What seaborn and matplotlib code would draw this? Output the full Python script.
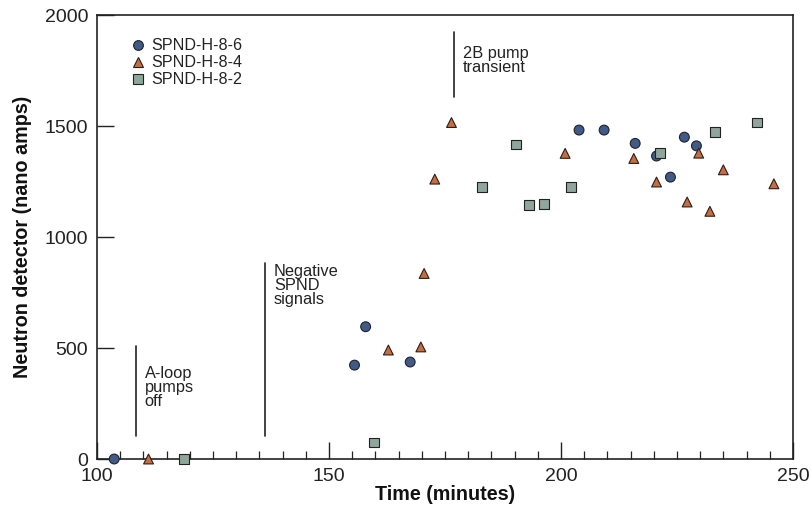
import matplotlib
matplotlib.use("Agg")
import matplotlib.pyplot as plt
import seaborn as sns
import pandas as pd
import numpy as np
from matplotlib.ticker import MultipleLocator
from matplotlib.lines import Line2D

# ---- data ----
s6_time = [103.7, 155.5, 157.9, 167.5, 203.9, 209.3, 216.0, 220.6, 223.6, 226.6, 229.2]
s6_val = [0, 423, 596, 437, 1482, 1482, 1422, 1365, 1270, 1450, 1411]

s4_time = [111.1, 162.8, 169.8, 170.5, 172.8, 176.4, 200.9, 215.7, 220.6, 227.2, 229.7, 232.1, 235.0, 245.9]
s4_val = [0, 491, 505, 836, 1261, 1516, 1377, 1354, 1248, 1158, 1378, 1116, 1303, 1240]

s2_time = [118.8, 159.7, 182.9, 190.3, 193.2, 196.3, 202.1, 221.3, 233.2, 242.2]
s2_val = [0, 74, 1224, 1417, 1144, 1149, 1227, 1377, 1474, 1516]

series_names = ["SPND-H-8-6", "SPND-H-8-4", "SPND-H-8-2"]

events_time = [108.4, 136.2, 177.0]
events_lo = [105, 105, 1633]
events_hi = [510, 883, 1922]
events_text = ["A-loop\npumps\noff", "Negative\nSPND\nsignals", "2B pump\ntransient"]
events_text_y = [418, 878, 1862]

df = pd.concat([
    pd.DataFrame({"Time": s6_time, "Value": s6_val, "Sensor": series_names[0]}),
    pd.DataFrame({"Time": s4_time, "Value": s4_val, "Sensor": series_names[1]}),
    pd.DataFrame({"Time": s2_time, "Value": s2_val, "Sensor": series_names[2]}),
], ignore_index=True)

colors = {"SPND-H-8-6": "#3e5b8c", "SPND-H-8-4": "#d16a35", "SPND-H-8-2": "#8ea79a"}
markers = {"SPND-H-8-6": "o", "SPND-H-8-4": "^", "SPND-H-8-2": "s"}

sns.set_theme(style="white")
plt.rcParams["font.family"] = ["Liberation Sans", "DejaVu Sans"]

fig = plt.figure(figsize=(8.12, 5.12), dpi=100)
ax = fig.add_axes([0.1195, 0.1035, 0.857, 0.867])

sns.scatterplot(data=df, x="Time", y="Value", hue="Sensor", style="Sensor",
                palette=colors, markers=markers, s=50, edgecolor="#222222",
                linewidth=0.8, ax=ax, legend=False, zorder=3, clip_on=False)

for t, lo, hi, txt, ty in zip(events_time, events_lo, events_hi, events_text, events_text_y):
    ax.plot([t, t], [lo, hi], color="#222222", lw=1.2)
    ax.text(t + 1.9, ty, txt, ha="left", va="top", fontsize=11.8,
            color="#222222", linespacing=0.92)

ax.set_xlim(100, 250)
ax.set_ylim(0, 2000)
ax.xaxis.set_major_locator(MultipleLocator(50))
ax.xaxis.set_minor_locator(MultipleLocator(5))
ax.yaxis.set_major_locator(MultipleLocator(500))

ax.tick_params(axis="x", which="major", direction="in", length=12, width=1.0,
               color="#222222", labelsize=14, pad=6.5, top=False, bottom=True,
               labelcolor="#222222")
ax.tick_params(axis="x", which="minor", direction="in", length=6, width=0.9,
               color="#222222", top=False, bottom=True)
ax.tick_params(axis="y", which="major", direction="in", length=12, width=1.0,
               color="#222222", labelsize=14, pad=6.5, left=True, right=False,
               labelcolor="#222222")

for sp in ax.spines.values():
    sp.set_color("#222222")
    sp.set_linewidth(1.2)

ax.set_xlabel("Time (minutes)", fontsize=14.2, fontweight="bold", color="#111111", labelpad=0)
ax.set_ylabel("Neutron detector (nano amps)", fontsize=14.2, fontweight="bold", color="#111111", labelpad=9)

handles = [Line2D([0], [0], marker=markers[n], color="none", markerfacecolor=colors[n],
                  markeredgecolor="#222222", markeredgewidth=0.8, markersize=7, label=n)
           for n in series_names]
ax.legend(handles=handles, loc="upper left", bbox_to_anchor=(0.035, 0.962), frameon=False,
          fontsize=11.6, handletextpad=0.25, labelspacing=0.12, handlelength=1.2,
          borderaxespad=0, labelcolor="#222222")

fig.savefig("out.png", dpi=100)
